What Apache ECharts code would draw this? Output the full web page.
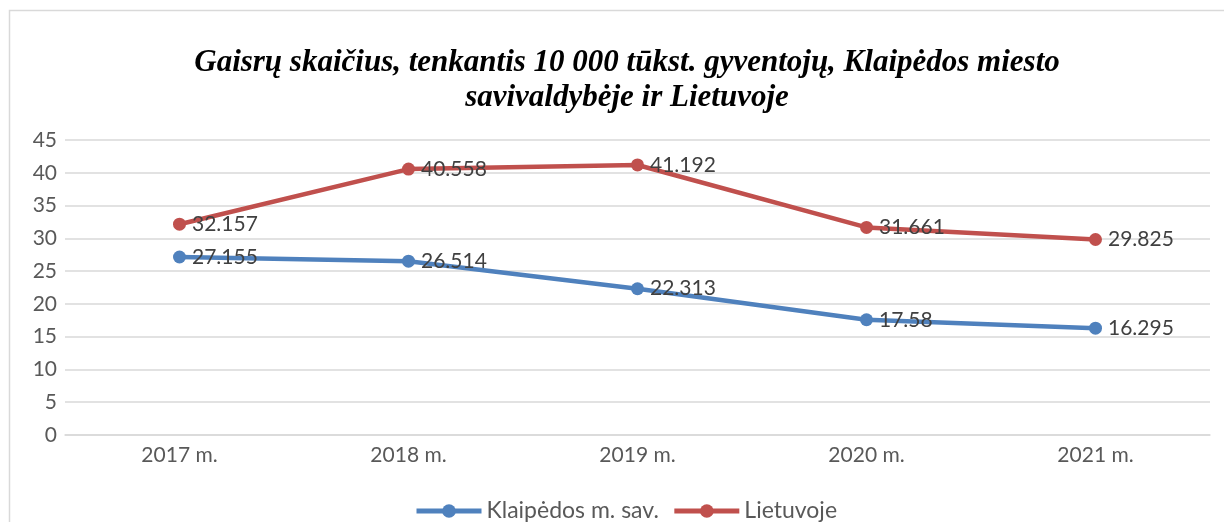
<!DOCTYPE html>
<html>
<head>
<meta charset="utf-8">
<script src="https://cdn.jsdelivr.net/npm/echarts@6/dist/echarts.min.js"></script>
<style>
  html, body { margin: 0; padding: 0; background: #fff; }
  #chart { width: 1224px; height: 522px; }
</style>
</head>
<body>
<div id="chart"></div>
<script>
    const years = ['2017 m.', '2018 m.', '2019 m.', '2020 m.', '2021 m.'];
    const klaipeda = [27.155, 26.514, 22.313, 17.58, 16.295];
    const lietuva = [32.157, 40.558, 41.192, 31.661, 29.825];

    const labelFont = 'Lato, "Open Sans", sans-serif';

    const chart = echarts.init(document.getElementById('chart'));

    function lineSeries(name, data, color) {
        return {
            name: name,
            type: 'line',
            data: data,
            symbol: 'circle',
            symbolSize: 13,
            lineStyle: { width: 4.5, color: color },
            itemStyle: { color: color },
            label: {
                show: true,
                position: 'right',
                distance: 6,
                color: '#404040',
                fontSize: 21,
                fontFamily: labelFont,
            },
            emphasis: { disabled: true },
        };
    }

    chart.setOption({
        backgroundColor: '#fff',
        animation: false,
        title: {
            text: 'Gaisrų skaičius, tenkantis 10 000 tūkst. gyventojų, Klaipėdos miesto\nsavivaldybėje ir Lietuvoje',
            left: 622,
            textAlign: 'center',
            top: 40,
            textStyle: {
                fontFamily: '"Liberation Serif", serif',
                fontStyle: 'italic',
                fontWeight: 'bold',
                fontSize: 31,
                lineHeight: 35,
                color: '#000',
            },
        },
        graphic: [{
            type: 'rect',
            shape: { x: 9.5, y: 10.5, width: 1230, height: 530 },
            style: { fill: 'none', stroke: '#d9d9d9', lineWidth: 1.5 },
            silent: true,
        }],
        legend: {
            top: 498,
            left: 414,
            padding: 0,
            itemWidth: 65,
            itemHeight: 17,
            itemGap: 13,
            lineStyle: { width: 5 },
            textStyle: { color: '#595959', fontSize: 23, fontFamily: labelFont, lineHeight: 26 },
            data: ['Klaipėdos m. sav.', 'Lietuvoje'],
        },
        grid: {
            left: 65,
            right: 14,
            top: 140,
            bottom: 87,
            containLabel: false,
        },
        xAxis: {
            type: 'category',
            data: years,
            boundaryGap: true,
            axisLine: { lineStyle: { color: '#d9d9d9', width: 1.5 } },
            axisTick: { show: false },
            axisLabel: { color: '#595959', fontSize: 21, fontFamily: labelFont, margin: 10 },
        },
        yAxis: {
            type: 'value',
            min: 0,
            max: 45,
            interval: 5,
            axisLine: { show: false },
            axisTick: { show: false },
            axisLabel: { color: '#595959', fontSize: 21, fontFamily: labelFont, margin: 8 },
            splitLine: { lineStyle: { color: '#d9d9d9', width: 1.5 } },
        },
        series: [
            lineSeries('Klaipėdos m. sav.', klaipeda, '#4f81bd'),
            lineSeries('Lietuvoje', lietuva, '#c0504d'),
        ],
    });
</script>
</body>
</html>
